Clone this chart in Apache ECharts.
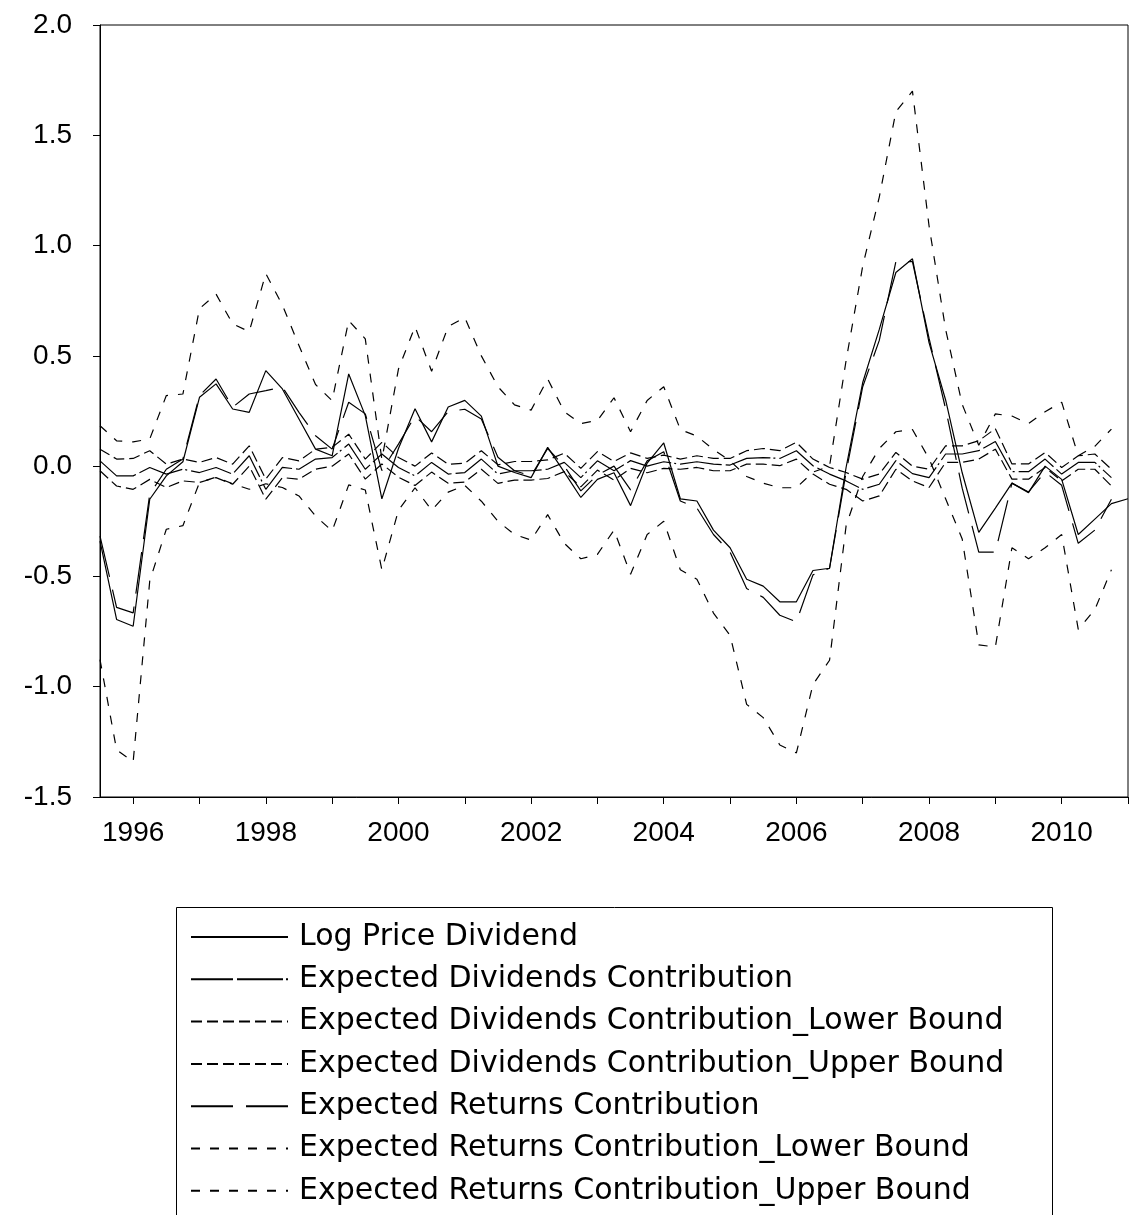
<!DOCTYPE html>
<html>
<head>
<meta charset="utf-8">
<script src="https://cdn.jsdelivr.net/npm/echarts@6/dist/echarts.min.js"></script>
<style>
html,body{margin:0;padding:0;background:#fff;}
#chart{width:1133px;height:1215px;}
</style>
</head>
<body>
<div id="chart"></div>
<script>
const quarters = [
 "1995Q3","1995Q4",
 "1996Q1","1996Q2","1996Q3","1996Q4",
 "1997Q1","1997Q2","1997Q3","1997Q4",
 "1998Q1","1998Q2","1998Q3","1998Q4",
 "1999Q1","1999Q2","1999Q3","1999Q4",
 "2000Q1","2000Q2","2000Q3","2000Q4",
 "2001Q1","2001Q2","2001Q3","2001Q4",
 "2002Q1","2002Q2","2002Q3","2002Q4",
 "2003Q1","2003Q2","2003Q3","2003Q4",
 "2004Q1","2004Q2","2004Q3","2004Q4",
 "2005Q1","2005Q2","2005Q3","2005Q4",
 "2006Q1","2006Q2","2006Q3","2006Q4",
 "2007Q1","2007Q2","2007Q3","2007Q4",
 "2008Q1","2008Q2","2008Q3","2008Q4",
 "2009Q1","2009Q2","2009Q3","2009Q4",
 "2010Q1","2010Q2","2010Q3","2010Q4",
 "2011Q1"
];

const yTicks = [-1.5, -1.0, -0.5, 0.0, 0.5, 1.0, 1.5, 2.0];

const seriesNames = [
 "Log Price Dividend",
 "Expected Dividends Contribution",
 "Expected Dividends Contribution_Lower Bound",
 "Expected Dividends Contribution_Upper Bound",
 "Expected Returns Contribution",
 "Expected Returns Contribution_Lower Bound",
 "Expected Returns Contribution_Upper Bound"
];

const logPriceDividend = [
 -0.34,-0.695,-0.726,-0.15,-0.044,0.02,0.312,0.373,0.259,0.244,
 0.433,0.35,0.214,0.077,0.047,0.418,0.229,-0.148,0.08,0.26,
 0.11,0.268,0.298,0.227,0.0,-0.029,-0.052,0.085,-0.027,-0.142,
 -0.06,-0.03,-0.179,0.014,0.105,-0.148,-0.158,-0.29,-0.37,-0.513,
 -0.544,-0.615,-0.615,-0.473,-0.463,-0.005,0.379,0.62,0.878,0.94,
 0.56,0.30,-0.03,-0.30,-0.19,-0.077,-0.12,0.0,-0.06,-0.31,
 -0.24,-0.17,-0.148
];

const expDividends = [
 0.024,-0.044,-0.044,-0.006,-0.036,-0.014,-0.029,-0.006,-0.036,0.047,
 -0.105,-0.006,-0.014,0.032,0.039,0.1,-0.014,0.055,-0.006,-0.044,
 0.017,-0.036,-0.029,0.032,-0.036,-0.021,-0.021,-0.014,0.017,-0.052,
 0.024,-0.021,0.025,0.0,0.02,0.009,0.02,0.009,0.005,0.035,
 0.039,0.035,0.07,0.002,-0.036,-0.067,-0.105,-0.082,0.025,-0.034,
 -0.052,0.055,0.055,0.07,0.112,-0.025,-0.025,0.032,-0.036,0.017,
 0.017,-0.052,null
];

const expDividendsLower = [
 -0.021,-0.09,-0.105,-0.06,-0.097,-0.067,-0.074,-0.052,-0.082,0.0,
 -0.15,-0.052,-0.059,-0.014,0.0,0.055,-0.059,0.01,-0.05,-0.088,
 -0.027,-0.078,-0.072,-0.014,-0.078,-0.063,-0.063,-0.056,-0.025,-0.094,
 -0.018,-0.063,-0.01,-0.03,-0.01,-0.014,-0.006,-0.021,-0.021,0.009,
 0.009,0.002,0.032,-0.036,-0.082,-0.105,-0.158,-0.135,-0.014,-0.067,
 -0.097,0.017,0.017,0.032,0.077,-0.059,-0.059,-0.006,-0.067,-0.014,
 -0.014,-0.09,null
];

const expDividendsUpper = [
 0.077,0.032,0.035,0.07,0.009,0.032,0.017,0.039,0.009,0.092,
 -0.059,0.039,0.024,0.077,0.085,0.145,0.032,0.108,0.039,0.0,
 0.06,0.008,0.013,0.07,0.006,0.021,0.021,0.028,0.059,-0.01,
 0.066,0.021,0.06,0.035,0.05,0.032,0.047,0.035,0.035,0.07,
 0.08,0.07,0.108,0.032,-0.006,-0.029,-0.059,-0.036,0.062,0.0,
 -0.014,0.092,0.092,0.115,0.17,0.01,0.01,0.062,-0.006,0.047,
 0.055,-0.014,null
];

const expReturns = [
 -0.317,-0.64,-0.665,-0.127,-0.014,0.032,0.32,0.395,0.267,0.327,
 0.342,0.358,0.244,0.138,0.077,0.29,0.237,-0.02,0.1,0.227,
 0.156,0.247,0.258,0.214,0.04,-0.021,-0.044,0.08,0.0,-0.112,
 -0.04,0.0,-0.108,0.024,0.065,-0.158,-0.19,-0.31,-0.39,-0.555,
 -0.595,-0.676,-0.706,-0.493,-0.463,-0.027,0.36,0.57,0.927,0.927,
 0.58,0.26,-0.1,-0.39,-0.39,-0.077,-0.117,-0.027,-0.087,-0.35,
 -0.29,-0.15,null
];

const expReturnsLower = [
 -0.877,-1.286,-1.34,-0.52,-0.286,-0.27,-0.074,-0.05,-0.08,-0.105,
 -0.08,-0.097,-0.135,-0.226,-0.294,-0.085,-0.108,-0.47,-0.2,-0.098,
 -0.2,-0.118,-0.087,-0.159,-0.25,-0.31,-0.335,-0.22,-0.35,-0.42,
 -0.4,-0.29,-0.49,-0.31,-0.25,-0.47,-0.513,-0.666,-0.767,-1.08,
 -1.14,-1.264,-1.3,-0.99,-0.88,-0.27,-0.047,0.08,0.156,0.166,
 0.034,-0.148,-0.33,-0.81,-0.82,-0.37,-0.42,-0.37,-0.31,-0.74,
 -0.65,-0.47,null
];

const expReturnsUpper = [
 0.183,0.115,0.11,0.123,0.32,0.327,0.714,0.78,0.645,0.61,
 0.873,0.73,0.547,0.37,0.297,0.66,0.577,0.03,0.44,0.633,
 0.43,0.633,0.674,0.5,0.36,0.278,0.254,0.395,0.247,0.193,
 0.207,0.31,0.156,0.298,0.36,0.166,0.136,0.075,0.024,-0.047,
 -0.077,-0.098,-0.098,-0.027,0.0,0.48,0.907,1.22,1.607,1.7,
 1.09,0.62,0.28,0.095,0.237,0.227,0.193,0.247,0.29,0.047,
 0.09,0.168,null
];

const AXIS_FONT = "'Liberation Sans', Arial, sans-serif";
const LEGEND_FONT = "'DejaVu Sans', 'Liberation Sans', Arial, sans-serif";

function mk(name, data, dash) {
  return {
    name: name,
    type: 'line',
    data: data,
    symbol: 'none',
    showSymbol: false,
    connectNulls: false,
    lineStyle: { color: '#000', width: 1.2, type: dash },
    itemStyle: { color: '#000' },
    emphasis: { disabled: true }
  };
}

const chart = echarts.init(document.getElementById('chart'), null, { renderer: 'canvas' });

const option = {
  animation: false,
  backgroundColor: '#fff',
  grid: {
    left: 100, right: 5, top: 25, height: 772,
    show: true, borderColor: '#000', borderWidth: 1, backgroundColor: 'transparent'
  },
  xAxis: {
    type: 'category',
    data: quarters,
    boundaryGap: false,
    axisLine: { onZero: false, lineStyle: { color: '#000', width: 1 } },
    axisTick: {
      show: true, inside: false, length: 7,
      lineStyle: { color: '#000' },
      interval: function (i) { return i % 4 === 2; }
    },
    axisLabel: {
      interval: function (i) { return i % 8 === 2; },
      formatter: function (v) { return v.slice(0, 4); },
      color: '#000', fontFamily: AXIS_FONT, fontSize: 28, margin: 22
    },
    splitLine: { show: false }
  },
  yAxis: {
    type: 'value',
    min: yTicks[0], max: yTicks[yTicks.length - 1], interval: 0.5,
    axisLine: { show: true, onZero: false, lineStyle: { color: '#000', width: 1 } },
    axisTick: { show: true, inside: false, length: 7, lineStyle: { color: '#000' } },
    axisLabel: {
      formatter: function (v) { return v.toFixed(1); },
      color: '#000', fontFamily: AXIS_FONT, fontSize: 28, margin: 28
    },
    splitLine: { show: false }
  },
  legend: {
    show: true,
    type: 'plain',
    orient: 'vertical',
    left: 176, top: 907,
    padding: [15, 5, 0, 14],
    itemWidth: 97, itemHeight: 14, itemGap: 12.3,
    itemStyle: { opacity: 0 },
    textStyle: { color: '#000', fontFamily: LEGEND_FONT, fontSize: 30, lineHeight: 30, padding: [0, 0, 0, 6] },
    selectedMode: false,
    data: seriesNames
  },
  graphic: [{
    type: 'rect',
    shape: { x: 176.5, y: 907.5, width: 876, height: 400 },
    style: { fill: 'none', stroke: '#000', lineWidth: 1 },
    silent: true, z: -1
  }],
  series: [
    mk(seriesNames[0], logPriceDividend, 'solid'),
    mk(seriesNames[1], expDividends, [42, 4, 46, 3, 2, 4]),
    mk(seriesNames[2], expDividendsLower, [11, 5]),
    mk(seriesNames[3], expDividendsUpper, [11, 5]),
    mk(seriesNames[4], expReturns, [42, 13]),
    mk(seriesNames[5], expReturnsLower, [9, 10]),
    mk(seriesNames[6], expReturnsUpper, [9, 10])
  ]
};
chart.setOption(option);
</script>
</body>
</html>
